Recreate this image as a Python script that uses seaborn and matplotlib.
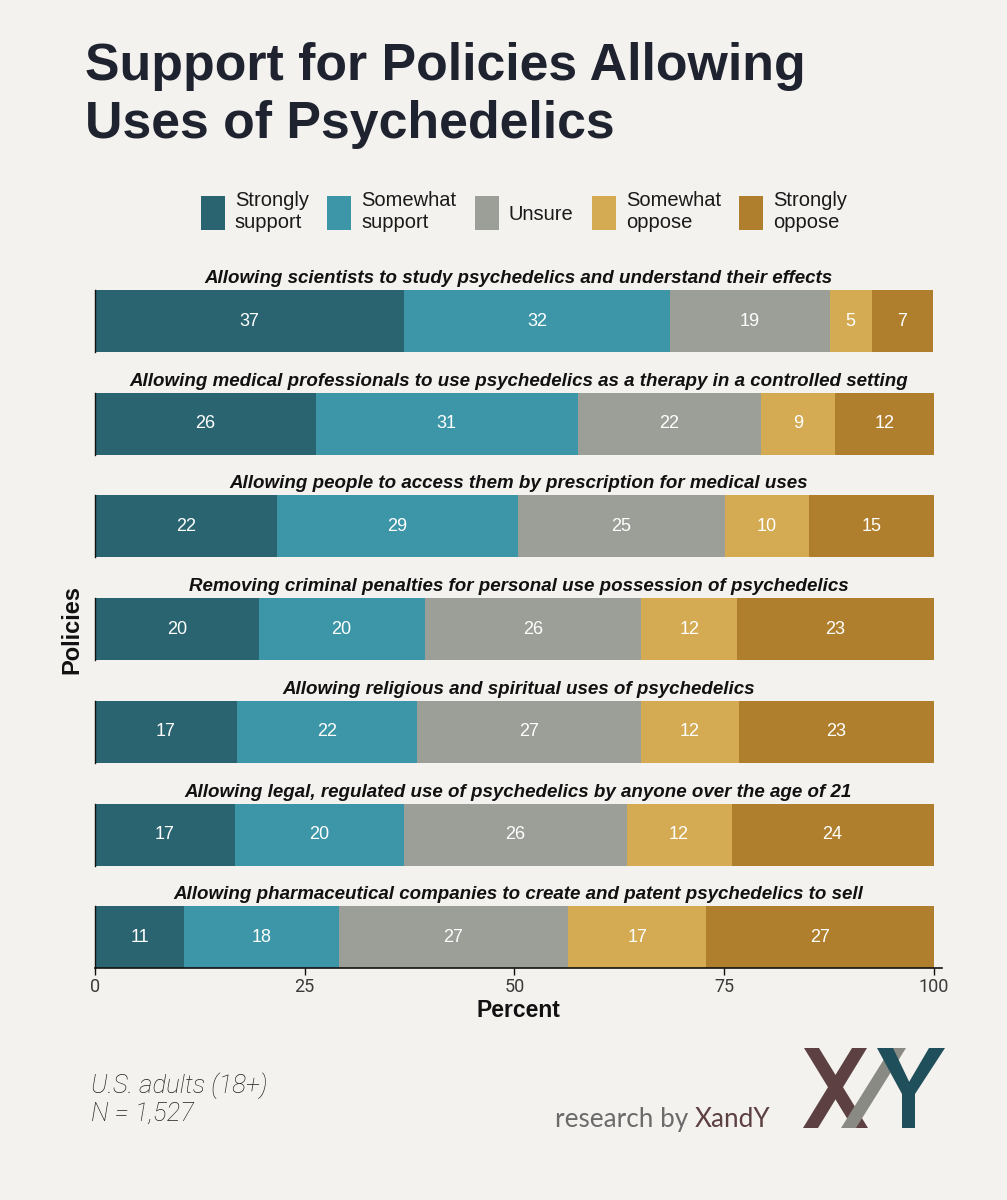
import matplotlib
matplotlib.use("Agg")
import matplotlib.pyplot as plt
from matplotlib.patches import Patch, Polygon
import seaborn as sns
import pandas as pd
import numpy as np

# ---------------- data ----------------
policies = [
    "Allowing scientists to study psychedelics and understand their effects",
    "Allowing medical professionals to use psychedelics as a therapy in a controlled setting",
    "Allowing people to access them by prescription for medical uses",
    "Removing criminal penalties for personal use possession of psychedelics",
    "Allowing religious and spiritual uses of psychedelics",
    "Allowing legal, regulated use of psychedelics by anyone over the age of 21",
    "Allowing pharmaceutical companies to create and patent psychedelics to sell",
]
responses = ["Strongly support", "Somewhat support", "Unsure", "Somewhat oppose", "Strongly oppose"]
legend_labels = ["Strongly\nsupport", "Somewhat\nsupport", "Unsure", "Somewhat\noppose", "Strongly\noppose"]
strongly_support = [36.8, 26.3, 21.7, 19.5, 16.9, 16.7, 10.6]
somewhat_support = [31.8, 31.3, 28.7, 19.8, 21.5, 20.1, 18.5]
unsure = [19.0, 21.8, 24.7, 25.8, 26.7, 26.6, 27.3]
somewhat_oppose = [5.0, 8.9, 10.1, 11.5, 11.7, 12.5, 16.5]
strongly_oppose = [7.3, 11.7, 14.8, 23.4, 23.2, 24.1, 27.1]
labels_ss = [37, 26, 22, 20, 17, 17, 11]
labels_ms = [32, 31, 29, 20, 22, 20, 18]
labels_un = [19, 22, 25, 26, 27, 26, 27]
labels_mo = [5, 9, 10, 12, 12, 12, 17]
labels_so = [7, 12, 15, 23, 23, 24, 27]
x_ticks = [0, 25, 50, 75, 100]

colors = ["#2a6470", "#3d96a8", "#9c9e98", "#d4aa52", "#b07f2e"]
BG = "#f4f2ee"

values = [strongly_support, somewhat_support, unsure, somewhat_oppose, strongly_oppose]
value_labels = [labels_ss, labels_ms, labels_un, labels_mo, labels_so]

df = pd.DataFrame({
    "policy": np.repeat(policies, len(responses)),
    "response": responses * len(policies),
    "value": [values[j][i] for i in range(len(policies)) for j in range(len(responses))],
    "label": [value_labels[j][i] for i in range(len(policies)) for j in range(len(responses))],
})
df["cum"] = df.groupby("policy")["value"].cumsum()

# ---------------- figure ----------------
sns.set_theme(style="white")
plt.rcParams["font.family"] = ["Liberation Sans", "DejaVu Sans"]
W, H = 1007, 1200
fig = plt.figure(figsize=(W / 100, H / 100), dpi=100, facecolor=BG)

def fy(px):
    return 1 - px / H

fig.text(85 / W, fy(80), "Support for Policies Allowing", fontsize=37.4, fontweight="bold",
         color="#1f2330", va="baseline", ha="left")
fig.text(85 / W, fy(138), "Uses of Psychedelics", fontsize=37.4, fontweight="bold",
         color="#1f2330", va="baseline", ha="left")

left_px, right_px = 95, 942
bar_h = 62
step = 102.7
top0 = 290

for i, pol in enumerate(policies):
    top = top0 + i * step
    ax = fig.add_axes([left_px / W, fy(top + bar_h), (right_px - left_px) / W, bar_h / H])
    ax.set_facecolor(BG)
    sub = df[df["policy"] == pol].reset_index(drop=True)
    # overlay cumulative bars from the last response to the first
    for j in range(len(responses) - 1, -1, -1):
        row = sub.iloc[[j]]
        sns.barplot(data=row, x="cum", y="policy", color=colors[j], saturation=1,
                    width=1, orient="h", ax=ax, linewidth=0, edgecolor="none")
    for j in range(len(responses)):
        r = sub.iloc[j]
        ax.text(r["cum"] - r["value"] / 2, 0, str(r["label"]), ha="center", va="center",
                color="white", fontsize=13)
    ax.set_xlim(0, 101)
    ax.set_ylim(0.5, -0.5)
    ax.set_ylabel("")
    ax.set_yticks([])
    ax.set_title(pol, fontsize=13.5, fontweight="bold", fontstyle="italic", color="#111111", pad=5)
    for s in ["top", "right"]:
        ax.spines[s].set_visible(False)
    ax.spines["left"].set_color("#111111")
    ax.spines["left"].set_linewidth(1.0)
    if i == len(policies) - 1:
        ax.spines["bottom"].set_color("#111111")
        ax.spines["bottom"].set_linewidth(1.2)
        ax.set_xticks(x_ticks)
        ax.set_xticklabels([str(t) for t in x_ticks], fontsize=13, color="#3a3a3a",
                           fontfamily=["Roboto", "DejaVu Sans"], fontweight="normal")
        ax.tick_params(axis="x", length=5, width=1, color="#111111", pad=2, bottom=True)
        ax.set_xlabel("Percent", fontsize=16.5, fontweight="bold", color="#111111", labelpad=2)
    else:
        ax.spines["bottom"].set_visible(False)
        ax.set_xticks([])
        ax.set_xlabel("")

fig.text(72 / W, fy(630), "Policies", rotation=90, fontsize=17, fontweight="bold",
         color="#111111", ha="center", va="center")

handles = [Patch(facecolor=c, edgecolor="none") for c in colors]
fig.legend(handles, legend_labels, loc="center", bbox_to_anchor=(524 / W, fy(212)), ncol=5,
           frameon=False, fontsize=14.5, handlelength=1.2, handleheight=2.2,
           handletextpad=0.5, columnspacing=0.9, labelspacing=0.2, labelcolor="#1a1a1a")

# footer
fig.text(91 / W, fy(1093), "U.S. adults (18+)", fontsize=18.5, fontstyle="italic",
         fontfamily=["Roboto", "DejaVu Sans"], fontweight="light", color="#1f1f1f", va="baseline")
fig.text(91 / W, fy(1121), "N = 1,527", fontsize=18.5, fontstyle="italic",
         fontfamily=["Roboto", "DejaVu Sans"], fontweight="light", color="#1f1f1f", va="baseline")

t1 = fig.text(555 / W, fy(1127), "research by ", fontsize=18.8, fontfamily=["Lato", "DejaVu Sans"],
              fontweight="normal", color="#6b6b6b", va="baseline", ha="left")
fig.canvas.draw()
bb = t1.get_window_extent()
fig.text(bb.x1 / W, fy(1127), "XandY", fontsize=18.8, fontfamily=["Lato", "DejaVu Sans"],
         fontweight="normal", color="#5c4042", va="baseline", ha="left")

# logo
lax = fig.add_axes([0, 0, 1, 1], facecolor="none")
lax.set_xlim(0, W)
lax.set_ylim(H, 0)
lax.axis("off")
def stroke(tx1, tx2, ty, bx1, bx2, by, c):
    lax.add_patch(Polygon([(tx1, ty), (tx2, ty), (bx2, by), (bx1, by)], closed=True,
                          facecolor=c, edgecolor="none"))
XC, SC, YC = "#5c4042", "#8a8a85", "#1f4f5a"
stroke(804, 819, 1048, 853, 868, 1128, XC)
stroke(852, 867, 1048, 803, 818, 1128, XC)
stroke(891, 906, 1048, 841, 856, 1128, SC)
stroke(877, 893, 1048, 902, 915, 1094, YC)
stroke(929, 945, 1048, 902, 915, 1094, YC)
stroke(902, 915, 1088, 902, 915, 1128, YC)

fig.savefig("out.png", dpi=100, facecolor=BG)
